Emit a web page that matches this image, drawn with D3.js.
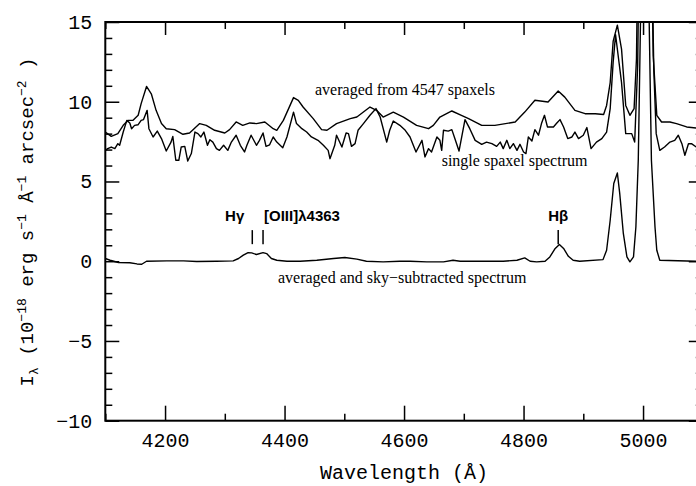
<!DOCTYPE html>
<html>
<head>
<meta charset="utf-8">
<script src="https://cdn.jsdelivr.net/npm/d3@7"></script>
<style>
body { margin: 0; background: #fff; }
svg { display: block; }
</style>
</head>
<body>
<svg id="chart" width="696" height="486"></svg>
<script>
// averaged from 4547 spaxels
var waveAvg = [4100,4110,4121,4130,4138,4146,4155,4160,4169,4177,4185,4194,4202,4216,4230,4241,4258,4269,4283,4300,
	4308,4319,4330,4342,4353,4367,4381,4387,4398,4415,4423,4431,4448,4462,4471,4487,4510,4521,4543,4554,
	4565,4582,4599,4621,4641,4649,4660,4680,4696,4708,4730,4752,4786,4802,4819,4841,4858,4869,4886,4903,
	4920,4934,4939,4945,4950,4957,4964,4971,4978,4985,4989,4993,5003,5012,5017,5023,5031,5045,5056,5073,
	5089,5100];
var fluxAvg = [8.1,7.83,8.0,8.52,8.83,8.83,9.15,9.88,10.96,10.5,9.46,8.63,8.31,8.25,7.96,8.04,8.63,8.52,8.21,8.04,
	8.25,8.73,8.52,8.67,8.63,8.73,8.31,8.21,8.83,10.26,10.09,9.67,8.94,8.25,8.21,8.63,8.94,9.04,9.67,9.46,
	9.04,9.35,9.04,8.52,8.31,8.52,9.04,9.42,9.15,8.94,8.52,8.52,8.73,9.35,10.09,9.98,10.67,10.29,9.46,9.25,
	9.25,9.2,9.77,11.2,13.8,14.8,13.3,9.77,9.15,9.57,12.7,25,40,25,12.9,9.15,8.73,8.73,8.63,8.42,
	8.35,8.3];

// single spaxel spectrum
var waveSingle = [4100,4104,4110,4116,4121,4124,4130,4136,4141,4144,4149,4155,4160,4164,4170,4173,4180,4187,4194,4202,
	4210,4213,4218,4223,4227,4233,4238,4244,4250,4255,4260,4265,4271,4275,4280,4286,4291,4298,4305,4311,
	4319,4326,4333,4337,4344,4353,4358,4364,4369,4375,4381,4387,4397,4404,4415,4420,4429,4437,4445,4456,
	4465,4473,4476,4484,4487,4496,4503,4507,4512,4518,4523,4532,4543,4553,4560,4571,4576,4582,4593,4602,
	4610,4620,4630,4635,4641,4646,4655,4660,4663,4666,4674,4680,4685,4692,4702,4710,4719,4730,4738,4747,
	4755,4761,4766,4772,4777,4783,4789,4794,4800,4804,4808,4814,4819,4825,4830,4835,4840,4850,4855,4861,
	4867,4874,4881,4886,4892,4900,4906,4913,4922,4931,4939,4945,4950,4954,4960,4964,4971,4981,4986,4991,
	4995,5003,5012,5018,5022,5028,5036,5045,5053,5059,5065,5070,5076,5081,5089,5100];
var fluxSingle = [6.95,7.06,7.16,7.06,7.37,7.27,8.1,8.83,8.67,8.31,8.52,8.56,8.83,8.88,9.46,8.31,7.79,8.16,7.69,6.91,
	7.47,7.83,6.33,6.33,7.16,7.2,6.28,6.75,8.1,8.0,7.79,8.1,7.27,7.62,7.47,7.06,6.95,7.27,6.95,7.47,
	7.9,7.27,6.85,7.27,7.9,7.27,7.58,8.04,7.2,7.3,7.79,7.47,7.12,7.79,9.35,8.63,8.31,8.1,7.79,7.58,
	7.27,6.95,6.43,7.27,7.9,7.16,8.04,8.0,7.2,7.37,8.21,8.63,9.15,9.57,9.04,7.47,8.21,8.79,8.52,8.21,
	7.79,6.85,7.58,6.54,7.06,6.85,7.79,7.58,6.95,8.21,8.16,8.25,7.69,6.91,8.88,8.31,7.58,7.33,7.47,7.37,
	7.2,7.47,7.06,7.58,7.06,7.37,6.95,7.33,6.85,6.75,7.79,7.54,8.25,7.9,8.63,9.15,8.42,8.42,8.63,8.88,
	8.42,7.69,7.79,8.1,7.69,7.9,8.38,7.06,7.47,7.69,8.1,9.57,12.5,14.2,12.4,11.2,8.0,8.0,7.47,12.28,
	25,38,25,12,8.0,6.95,7.16,7.47,7.58,7.9,7.37,6.64,7.37,7.37,7.16,7.3];

// averaged and sky-subtracted spectrum
var waveSub = [4100,4108,4122,4141,4153,4161,4169,4203,4231,4253,4286,4314,4323,4331,4339,4345,4353,4364,4370,4378,
	4387,4404,4426,4454,4482,4501,4521,4537,4565,4593,4610,4638,4666,4682,4694,4722,4766,4789,4802,4811,
	4822,4836,4844,4853,4860,4867,4875,4883,4894,4933,4939,4945,4951,4957,4961,4967,4973,4978,4984,4988,
	4992,5003,5014,5020,5023,5028,5089,5100];
var fluxSub = [0.17,0.06,-0.08,-0.1,-0.17,-0.19,0.0,0.02,0.02,-0.02,0.0,0.02,0.17,0.38,0.54,0.52,0.42,0.54,0.48,0.17,
	0.06,0.0,0.0,0.06,0.17,0.23,0.13,0.0,-0.04,0.0,0.0,-0.04,-0.04,0.06,0.0,0.0,0.0,0.06,0.21,0.0,
	-0.04,0.0,0.27,0.8,1.05,0.8,0.31,0.06,0.0,0.1,0.69,2.57,4.87,5.53,4.24,1.74,0.27,-0.04,0.27,2.15,
	6.33,32,6.33,2.15,0.69,0.06,0.0,0.0];

var lineNames = ["Hγ", "[OIII]λ4363", "Hβ"];
var lineWaves = [4346, 4364, 4858];

var xMajor = [4200, 4400, 4600, 4800, 5000];
var xMinor = [4100, 4300, 4500, 4700, 4900, 5100];
var yMajor = [-10, -5, 0, 5, 10, 15];
var yMinor = d3.range(-10, 16).filter(function(v) { return v % 5 !== 0; });

var svg = d3.select("#chart");
var x = d3.scaleLinear().domain([4100, 5100]).range([105.3, 702.8]);
var y = d3.scaleLinear().domain([-10, 15]).range([420.7, 22]);

var axisFont = "'Liberation Mono', 'DejaVu Sans Mono', monospace";

svg.append("clipPath").attr("id", "plotclip")
	.append("rect")
	.attr("x", x(4100)).attr("y", y(15))
	.attr("width", x(5100) - x(4100)).attr("height", y(-10) - y(15));

function styleAxis(g)
{
	g.select(".domain").remove();
	g.selectAll("line").attr("stroke", "#000").attr("stroke-width", 1.5);
	g.selectAll("text").attr("fill", "#000").attr("font-family", axisFont).attr("font-size", 20);
}

// bottom / top
svg.append("g").attr("transform", "translate(0," + y(-10) + ")")
	.call(d3.axisBottom(x).tickValues(xMajor).tickSize(-15).tickPadding(12).tickFormat(d3.format("d")))
	.call(styleAxis);
svg.append("g").attr("transform", "translate(0," + y(-10) + ")")
	.call(d3.axisBottom(x).tickValues(xMinor).tickSize(-7).tickFormat(""))
	.call(styleAxis);
svg.append("g").attr("transform", "translate(0," + y(15) + ")")
	.call(d3.axisTop(x).tickValues(xMajor).tickSize(-13).tickFormat(""))
	.call(styleAxis);
svg.append("g").attr("transform", "translate(0," + y(15) + ")")
	.call(d3.axisTop(x).tickValues(xMinor).tickSize(-7).tickFormat(""))
	.call(styleAxis);

// left / right
svg.append("g").attr("transform", "translate(" + x(4100) + ",0)")
	.call(d3.axisLeft(y).tickValues(yMajor).tickSize(-14).tickPadding(13))
	.call(styleAxis);
svg.append("g").attr("transform", "translate(" + x(4100) + ",0)")
	.call(d3.axisLeft(y).tickValues(yMinor).tickSize(-7).tickFormat(""))
	.call(styleAxis);
svg.append("g").attr("transform", "translate(" + x(5100) + ",0)")
	.call(d3.axisRight(y).tickValues(yMajor).tickSize(-14).tickFormat(""))
	.call(styleAxis);
svg.append("g").attr("transform", "translate(" + x(5100) + ",0)")
	.call(d3.axisRight(y).tickValues(yMinor).tickSize(-7).tickFormat(""))
	.call(styleAxis);

// frame
svg.append("rect")
	.attr("x", x(4100)).attr("y", y(15))
	.attr("width", x(5100) - x(4100)).attr("height", y(-10) - y(15))
	.attr("fill", "none").attr("stroke", "#000").attr("stroke-width", 2);

// spectra
var line = d3.line().x(function(d) { return x(d[0]); }).y(function(d) { return y(d[1]); });
var spectra = [d3.zip(waveAvg, fluxAvg), d3.zip(waveSingle, fluxSingle), d3.zip(waveSub, fluxSub)];
svg.append("g").attr("clip-path", "url(#plotclip)")
	.selectAll("path").data(spectra).enter().append("path")
	.attr("d", line)
	.attr("fill", "none")
	.attr("stroke", "#000")
	.attr("stroke-width", 1.4)
	.attr("stroke-linejoin", "round");

// spectrum labels
var serif = "'Liberation Serif', 'Times New Roman', serif";
svg.append("text").attr("x", x(4451)).attr("y", y(10.4))
	.attr("font-family", serif).attr("font-size", 16).text("averaged from 4547 spaxels");
svg.append("text").attr("x", x(4663)).attr("y", y(6.0))
	.attr("font-family", serif).attr("font-size", 16).text("single spaxel spectrum");
svg.append("text").attr("x", x(4389)).attr("y", y(-1.38))
	.attr("font-family", serif).attr("font-size", 16).text("averaged and sky\u2212subtracted spectrum");

// emission line markers
var sans = "'Liberation Sans', Arial, sans-serif";
var anchors = ["end", "start", "middle"];
var offsets = [-8, 1, 0];
svg.selectAll("line.mark").data(lineWaves).enter().append("line")
	.attr("class", "mark")
	.attr("x1", function(d) { return x(d); }).attr("x2", function(d) { return x(d); })
	.attr("y1", y(1.07)).attr("y2", y(1.95))
	.attr("stroke", "#000").attr("stroke-width", 1.5);
svg.selectAll("text.mark").data(lineNames).enter().append("text")
	.attr("class", "mark")
	.attr("x", function(d, i) { return x(lineWaves[i]) + offsets[i]; })
	.attr("y", y(2.52))
	.attr("text-anchor", function(d, i) { return anchors[i]; })
	.attr("font-family", sans).attr("font-weight", "bold").attr("font-size", 15)
	.text(function(d) { return d; });

// axis titles
svg.append("text")
	.attr("x", 404).attr("y", 479)
	.attr("text-anchor", "middle")
	.attr("font-family", axisFont).attr("font-size", 20)
	.text("Wavelength (\u00c5)");

var yt = svg.append("text")
	.attr("transform", "translate(33,222) rotate(-90)")
	.attr("text-anchor", "middle")
	.attr("font-family", axisFont).attr("font-size", 19);
var parts = [["I", 0], ["\u03bb", 5], [" (10", -5], ["\u221218", -7], [" erg s", 7], ["\u22121", -7],
	[" \u00c5", 7], ["\u22121", -7], [" arcsec", 7], ["\u22122", -7], [" )", 7]];
parts.forEach(function(p) {
	var t = yt.append("tspan").attr("dy", p[1]).text(p[0]);
	if (p[0].charAt(0) !== " " && p[0] !== "I") t.attr("font-size", 13);
});
</script>
</body>
</html>
